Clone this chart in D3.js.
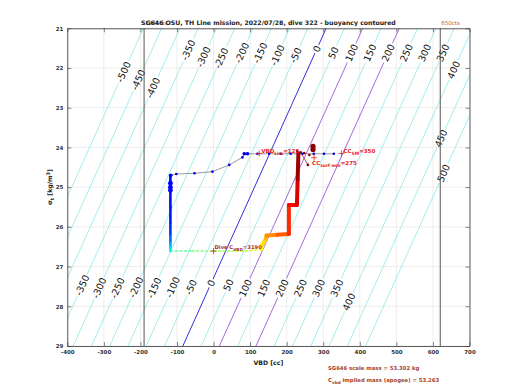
<!DOCTYPE html>
<html>
<head>
<meta charset="utf-8">
<script src="https://cdn.jsdelivr.net/npm/d3@7.9.0/dist/d3.min.js"></script>
<style>
  body { margin: 0; background: #fff; }
  svg { display: block; font-family: "DejaVu Sans", sans-serif; }
</style>
</head>
<body>
<svg id="chart" width="520" height="390"></svg>
<script>
// ---- data ----
const vbdTicks = [-400, -300, -200, -100, 0, 100, 200, 300, 400, 500, 600, 700];
const sigmaTicks = [21, 22, 23, 24, 25, 26, 27, 28, 29];

// buoyancy contour levels (g) and the VBD of neutral buoyancy at sigma 21 / 29
const contourLevels = [-500, -450, -400, -350, -300, -250, -200, -150, -100, -50, 0,
  50, 100, 150, 200, 250, 300, 350, 400, 450, 500];
const neutralVBD = [308, -84];
const blueLevels = [0];
const purpleLevels = [100, 200];

// where each contour label sits (sigma along the line)
const topLabelLevels = [-500, -450, -400, -350, -300, -250, -200, -150, -100, -50, 0,
  50, 100, 150, 200, 250, 300, 350, 400, 450, 500];
const topLabelSigma = [22.10, 22.30, 22.50, 21.55, 21.72, 21.75, 21.62, 21.62, 21.68, 21.68, 21.52,
  21.62, 21.62, 21.62, 21.62, 21.62, 21.62, 21.62, 22.05, 23.77, 24.65];
const botLabelLevels = [-350, -300, -250, -200, -150, -100, -50, 0, 50, 100, 150, 200, 250, 300, 350, 400];
const botLabelSigma = [27.47, 27.54, 27.54, 27.52, 27.54, 27.52, 27.52, 27.42, 27.47,
  27.54, 27.54, 27.54, 27.54, 27.54, 27.54, 27.89];

// VBD limits (dark vertical lines) and their labels
const vbdLimits = [-190, 620];
const vbdLimitLabels = ['3946cts', '650cts'];

// surface bleed, blue dots
const surfVBD = [329, 302, 274, 243, 211, 184, 152, 120, 93, 84, 79, 43, -3, -52, -102, -117];
const surfSigma = [24.16, 24.16, 24.16, 24.16, 24.16, 24.16, 24.16, 24.16, 24.16, 24.16, 24.25, 24.44, 24.61, 24.65, 24.67, 24.70];
const surfBigVBD = [84, 93, -117];
const surfBigSigma = [24.16, 24.16, 24.70];

// descent (constant VBD), colour position along the dive (0..1, jet)
const descVBD = [-118, -118, -118, -118, -118, -118, -118, -118, -118];
const descSigma = [24.70, 24.90, 25.10, 25.50, 25.90, 26.20, 26.40, 26.52, 26.61];
const descT = [0.12, 0.13, 0.135, 0.14, 0.15, 0.19, 0.26, 0.32, 0.37];
const descBigSigma = [24.90, 25.00, 25.08];

// apogee pump
const apoVBD = [-118, -60, 0, 60, 100, 130];
const apoSigma = [26.61, 26.61, 26.61, 26.61, 26.60, 26.56];
const apoT = [0.44, 0.49, 0.52, 0.55, 0.58, 0.61];

// climb
const climbVBD = [130, 133, 143, 145, 175, 206, 206, 228, 230, 232];
const climbSigma = [26.56, 26.46, 26.30, 26.22, 26.20, 26.18, 25.45, 25.45, 24.80, 24.15];
const climbT = [0.61, 0.63, 0.68, 0.71, 0.76, 0.81, 0.86, 0.88, 0.94, 1.0];

// surfacing points
const endVBD = [229, 238, 248, 262, 272, 272, 258];
const endSigma = [24.10, 24.12, 24.14, 24.19, 23.97, 24.05, 24.44];
const endR = [1.3, 1.3, 1.3, 1.3, 2.6, 2.6, 1.3];

// red annotation markers
const markVBD = [125, 350, 275];
const markSigma = [24.15, 24.15, 24.26];
const markText = [['VBD', 'Lim', '=125'], ['CC', 'SM', '=350'], ['CC', 'surf min', '=275']];
const diveMark = { vbd: 0, sigma: 26.61, text: ['Dive C', 'VBD', '=3190'] };

const massLines = [['SG646 scale mass = 53.302 kg'], ['C', 'vbd', ' implied mass (apogee) = 53.263']];

// ---- chart ----
const svg = d3.select('#chart');
const x = d3.scaleLinear().domain([-400, 700]).range([67.3, 469.5]);
const y = d3.scaleLinear().domain([21, 29]).range([28.3, 346]);
const [x0, x1] = x.range();
const [y0, y1] = y.range();

const jet = d3.scaleLinear()
  .domain([0, 0.125, 0.375, 0.625, 0.875, 1])
  .range(['#000080', '#0000ff', '#00ffff', '#ffff00', '#ff0000', '#800000'])
  .interpolate(d3.interpolateRgb);

const defs = svg.append('defs');
defs.append('clipPath').attr('id', 'plotclip')
  .append('rect').attr('x', x0).attr('y', y0).attr('width', x1 - x0).attr('height', y1 - y0);
const mask = defs.append('mask').attr('id', 'lblmask')
  .attr('maskUnits', 'userSpaceOnUse').attr('x', 0).attr('y', 0).attr('width', 520).attr('height', 390);
mask.append('rect').attr('width', 520).attr('height', 390).attr('fill', '#fff');

// grid
const grid = svg.append('g');
vbdTicks.forEach(v => grid.append('line')
  .attr('x1', x(v)).attr('x2', x(v)).attr('y1', y0).attr('y2', y1)
  .attr('stroke', '#e2e2e2').attr('stroke-width', 0.6));
sigmaTicks.forEach(s => grid.append('line')
  .attr('x1', x0).attr('x2', x1).attr('y1', y(s)).attr('y2', y(s))
  .attr('stroke', '#e2e2e2').attr('stroke-width', 0.6));

// contours
const vbdAt = (lev, s) => lev + neutralVBD[0] + (neutralVBD[1] - neutralVBD[0]) * (s - 21) / 8;
const contourG = svg.append('g').attr('clip-path', 'url(#plotclip)');
const lines = contourG.append('g').attr('mask', 'url(#lblmask)');
contourLevels.forEach(lev => {
  let col = '#78e6e6', w = 0.7;
  if (blueLevels.includes(lev)) { col = '#1a1acc'; w = 0.9; }
  if (purpleLevels.includes(lev)) { col = '#9a5ad8'; w = 0.9; }
  lines.append('line')
    .attr('x1', x(vbdAt(lev, 21))).attr('y1', y(21))
    .attr('x2', x(vbdAt(lev, 29))).attr('y2', y(29))
    .attr('stroke', col).attr('stroke-width', w);
});

const ang = Math.atan2(y(29) - y(21), x(vbdAt(0, 29)) - x(vbdAt(0, 21))) * 180 / Math.PI + 180;
function contourLabel(lev, s) {
  const cx = x(vbdAt(lev, s)), cy = y(s);
  const t = contourG.append('text')
    .attr('transform', `translate(${cx},${cy}) rotate(${ang})`)
    .attr('text-anchor', 'middle').attr('dy', '0.35em')
    .attr('font-size', 9.5).attr('fill', '#111')
    .text(lev);
  const w = t.node().getComputedTextLength() + 3;
  mask.append('rect')
    .attr('transform', `translate(${cx},${cy}) rotate(${ang})`)
    .attr('x', -w / 2).attr('y', -5).attr('width', w).attr('height', 10)
    .attr('fill', '#000');
}
topLabelLevels.forEach((lev, i) => contourLabel(lev, topLabelSigma[i]));
botLabelLevels.forEach((lev, i) => contourLabel(lev, botLabelSigma[i]));

// VBD limit lines
vbdLimits.forEach((v, i) => {
  svg.append('line').attr('x1', x(v)).attr('x2', x(v)).attr('y1', y0).attr('y2', y1)
    .attr('stroke', '#555').attr('stroke-width', 1);
  svg.append('text').attr('x', x(v) + 1).attr('y', y0 - 3)
    .attr('font-size', 5.5).attr('fill', '#c8602e').text(vbdLimitLabels[i]);
});

// axes
const fmt = d => d;
const axB = svg.append('g').attr('transform', `translate(0,${y1})`)
  .call(d3.axisBottom(x).tickValues(vbdTicks).tickSizeInner(-4).tickSizeOuter(0).tickPadding(4).tickFormat(fmt));
const axT = svg.append('g').attr('transform', `translate(0,${y0})`)
  .call(d3.axisTop(x).tickValues(vbdTicks).tickSizeInner(-4).tickSizeOuter(0).tickFormat(''));
const axL = svg.append('g').attr('transform', `translate(${x0},0)`)
  .call(d3.axisLeft(y).tickValues(sigmaTicks).tickSizeInner(-4).tickSizeOuter(0).tickPadding(4).tickFormat(fmt));
const axR = svg.append('g').attr('transform', `translate(${x1},0)`)
  .call(d3.axisRight(y).tickValues(sigmaTicks).tickSizeInner(-4).tickSizeOuter(0).tickFormat(''));
[axB, axT, axL, axR].forEach(a => {
  a.selectAll('path').attr('stroke', '#333').attr('stroke-width', 0.8);
  a.selectAll('line').attr('stroke', '#333').attr('stroke-width', 0.6);
  a.selectAll('text').attr('font-size', 5.5).attr('font-weight', 'bold').attr('fill', '#333')
    .attr('font-family', '"DejaVu Sans", sans-serif');
});

// dive trajectory
const traj = svg.append('g').attr('clip-path', 'url(#plotclip)');
function colouredPath(vbd, sig, tt, width, dash) {
  for (let i = 0; i < vbd.length - 1; i++) {
    traj.append('line')
      .attr('x1', x(vbd[i])).attr('y1', y(sig[i]))
      .attr('x2', x(vbd[i + 1])).attr('y2', y(sig[i + 1]))
      .attr('stroke', jet((tt[i] + tt[i + 1]) / 2))
      .attr('stroke-width', width)
      .attr('stroke-linecap', dash ? 'butt' : 'round')
      .attr('stroke-dasharray', dash || null);
  }
}

// surface bleed: thin dark line + blue dots
traj.append('path')
  .datum(surfVBD.map((v, i) => [v, surfSigma[i]]))
  .attr('d', d3.line().x(d => x(d[0])).y(d => y(d[1])))
  .attr('fill', 'none').attr('stroke', '#555').attr('stroke-width', 0.6);
traj.selectAll('.sdot').data(surfVBD).join('circle')
  .attr('cx', d => x(d)).attr('cy', (d, i) => y(surfSigma[i]))
  .attr('r', 1.3).attr('fill', jet(0.1));
surfBigVBD.forEach((v, i) => traj.append('circle')
  .attr('cx', x(v)).attr('cy', y(surfBigSigma[i])).attr('r', 1.8).attr('fill', jet(0.1)));

colouredPath(descVBD, descSigma, descT, 2.6);
descBigSigma.forEach(s => traj.append('circle')
  .attr('cx', x(descVBD[0])).attr('cy', y(s)).attr('r', 2.4).attr('fill', jet(0.13)));
colouredPath(apoVBD, apoSigma, apoT, 1.5, '3,1.5');
colouredPath(climbVBD, climbSigma, climbT, 4);

// surfacing points
traj.append('line')
  .attr('x1', x(endVBD[1])).attr('y1', y(endSigma[1]))
  .attr('x2', x(endVBD[6])).attr('y2', y(endSigma[6]))
  .attr('stroke', '#8b1010').attr('stroke-width', 0.7);
endVBD.forEach((v, i) => traj.append('circle')
  .attr('cx', x(v)).attr('cy', y(endSigma[i])).attr('r', endR[i]).attr('fill', '#8b0000'));

// annotations
function plus(px, py, col) {
  svg.append('path').attr('d', `M${px - 3},${py}H${px + 3}M${px},${py - 3}V${py + 3}`)
    .attr('stroke', col).attr('stroke-width', 0.8);
}
function subText(px, py, parts, col, size) {
  const t = svg.append('text').attr('x', px).attr('y', py)
    .attr('font-size', size).attr('fill', col).attr('font-weight', 'bold');
  t.append('tspan').text(parts[0]);
  if (parts.length > 1) {
    t.append('tspan').attr('dy', size * 0.35).attr('font-size', size * 0.8).text(parts[1]);
    t.append('tspan').attr('dy', -size * 0.35).text(parts[2]);
  }
  return t;
}
markVBD.forEach((v, i) => {
  const px = x(v), py = y(markSigma[i]);
  plus(px, py, '#e8231d');
  if (i === 2) subText(px - 2, py + 7, markText[i], '#e8231d', 5.5);
  else subText(px + 2, py, markText[i], '#e8231d', 5.5);
});
plus(x(diveMark.vbd), y(diveMark.sigma), '#d41e1e');
subText(x(diveMark.vbd) + 1, y(diveMark.sigma) - 2, diveMark.text, '#a0302a', 5.2);

// title and axis labels
svg.append('text').attr('x', (x0 + x1) / 2).attr('y', 25)
  .attr('text-anchor', 'middle').attr('font-size', 6.2).attr('font-weight', 'bold').attr('fill', '#222')
  .text('SG646 OSU, TH Line mission, 2022/07/28, dive 322 - buoyancy contoured');
svg.append('text').attr('x', (x0 + x1) / 2).attr('y', 364.5)
  .attr('text-anchor', 'middle').attr('font-size', 6.2).attr('font-weight', 'bold').attr('fill', '#222')
  .text('VBD [cc]');
const yl = svg.append('text').attr('transform', `translate(52,${(y0 + y1) / 2}) rotate(-90)`)
  .attr('text-anchor', 'middle').attr('font-size', 6.2).attr('font-weight', 'bold').attr('fill', '#222');
yl.append('tspan').text('σ');
yl.append('tspan').attr('dy', 1.5).attr('font-size', 5).text('t');
yl.append('tspan').attr('dy', -1.5).text(' [kg/m');
yl.append('tspan').attr('dy', -2).attr('font-size', 5).text('3');
yl.append('tspan').attr('dy', 2).text(']');

// mass notes
subText(328, 369.5, massLines[0], '#a5422a', 5.3);
subText(328, 382, massLines[1], '#a5422a', 5.3);
</script>
</body>
</html>
